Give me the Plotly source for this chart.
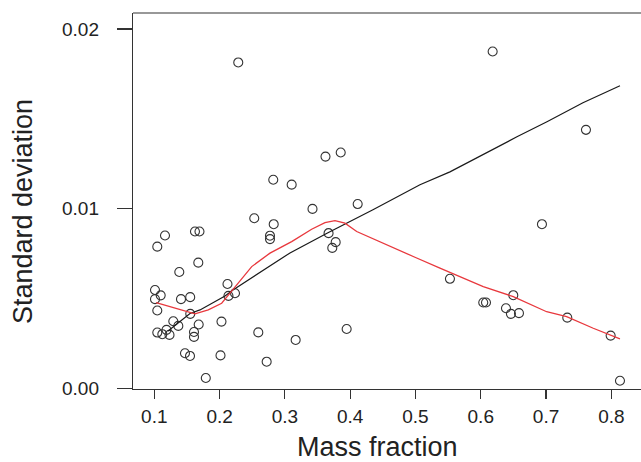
import plotly.graph_objects as go

# Scatter data (mass fraction, standard deviation)
mass_fraction = [0.1164, 0.1046, 0.1623, 0.1692, 0.1674, 0.1383, 0.1011, 0.1098, 0.1011, 0.1409,
                 0.1550, 0.1046, 0.1551, 0.1291, 0.1368, 0.1680, 0.1608, 0.1608, 0.1046, 0.1123,
                 0.1187, 0.1233, 0.1470, 0.1547, 0.2014, 0.2029, 0.1789, 0.2121, 0.2136, 0.2236,
                 0.2286, 0.2531, 0.2822, 0.3104, 0.2829, 0.2772, 0.2772, 0.2593, 0.2721, 0.3165,
                 0.3423, 0.3622, 0.3855, 0.4115, 0.3669, 0.3778, 0.3726, 0.3946, 0.6182, 0.7611,
                 0.6937, 0.5528, 0.6038, 0.6080, 0.6498, 0.6386, 0.6462, 0.6585, 0.7325, 0.7989,
                 0.8132]
std_dev = [0.00851, 0.00789, 0.00873, 0.00873, 0.00700, 0.00648, 0.00548, 0.00518, 0.00497, 0.00497,
           0.00508, 0.00434, 0.00415, 0.00374, 0.00348, 0.00356, 0.00314, 0.00287, 0.00311, 0.00302,
           0.00326, 0.00298, 0.00196, 0.00181, 0.00184, 0.00372, 0.00058, 0.00581, 0.00515, 0.00530,
           0.01814, 0.00947, 0.01161, 0.01134, 0.00914, 0.00850, 0.00831, 0.00312, 0.00149, 0.00270,
           0.00999, 0.01290, 0.01313, 0.01026, 0.00864, 0.00814, 0.00782, 0.00331, 0.01875, 0.01439,
           0.00914, 0.00610, 0.00478, 0.00478, 0.00519, 0.00446, 0.00415, 0.00419, 0.00394, 0.00294,
           0.00043]

# Black fitted curve
fit_x = [0.121, 0.1547, 0.170, 0.2083, 0.2205, 0.3078, 0.3660, 0.4349, 0.5069, 0.5528,
         0.6554, 0.7014, 0.7565, 0.8132]
fit_y = [0.00320, 0.00417, 0.00437, 0.00515, 0.00548, 0.00754, 0.00866, 0.00994, 0.01133, 0.01205,
         0.01400, 0.01484, 0.01590, 0.01684]

# Red smoothed curve
smooth_x = [0.1028, 0.1291, 0.1623, 0.1827, 0.2032, 0.2159, 0.2286, 0.2492, 0.2772, 0.3104,
            0.3410, 0.3614, 0.3767, 0.3920, 0.4100, 0.4380, 0.4686, 0.4992, 0.5375, 0.6038,
            0.6498, 0.7009, 0.7315, 0.7723, 0.8132]
smooth_y = [0.00478, 0.00452, 0.00415, 0.00437, 0.00474, 0.00530, 0.00586, 0.00678, 0.00753, 0.00817,
            0.00886, 0.00923, 0.00934, 0.00920, 0.00873, 0.00827, 0.00780, 0.00730, 0.00669, 0.00567,
            0.00511, 0.00427, 0.00400, 0.00335, 0.00276]

x_ticks = [0.1, 0.2, 0.3, 0.4, 0.5, 0.6, 0.7, 0.8]
x_tick_labels = ["0.1", "0.2", "0.3", "0.4", "0.5", "0.6", "0.7", "0.8"]
y_ticks = [0.0, 0.01, 0.02]
y_tick_labels = ["0.00", "0.01", "0.02"]

FONT = "Liberation Sans, Arial, sans-serif"
INK = "#222222"

fig = go.Figure()
fig.add_trace(go.Scatter(
    x=mass_fraction, y=std_dev, mode="markers",
    marker=dict(symbol="circle-open", size=9, color="#333333", line=dict(width=1.1, color="#333333")),
    showlegend=False, hoverinfo="skip"))
fig.add_trace(go.Scatter(
    x=fit_x, y=fit_y, mode="lines",
    line=dict(color="#1a1a1a", width=1.2), showlegend=False, hoverinfo="skip"))
fig.add_trace(go.Scatter(
    x=smooth_x, y=smooth_y, mode="lines",
    line=dict(color="#e8383d", width=1.3), showlegend=False, hoverinfo="skip"))

fig.update_layout(
    width=641, height=462,
    margin=dict(l=133, r=0, t=13, b=73),
    paper_bgcolor="white", plot_bgcolor="white",
    font=dict(family=FONT, color=INK),
    xaxis=dict(
        range=[0.0674, 0.8454], showgrid=False, zeroline=False,
        showline=True, linecolor="#333333", linewidth=1.2, mirror=False,
        tickmode="array", tickvals=x_ticks, ticktext=x_tick_labels,
        ticks="outside", ticklen=9, tickwidth=1.2, tickcolor="#333333",
        tickfont=dict(size=19, family=FONT, color=INK), ticklabelstandoff=1),
    yaxis=dict(
        range=[-0.00003, 0.02089], showgrid=False, zeroline=False,
        showline=True, linecolor="#333333", linewidth=1.2, mirror=False,
        tickmode="array", tickvals=y_ticks, ticktext=y_tick_labels,
        ticks="outside", ticklen=15, tickwidth=1.2, tickcolor="#333333",
        tickfont=dict(size=19, family=FONT, color=INK), ticklabelstandoff=14),
    shapes=[dict(type="line", xref="paper", yref="paper", x0=0, x1=1, y0=1, y1=1,
                 line=dict(color="#333333", width=1.2))],
    annotations=[
        dict(text="Mass fraction", xref="paper", yref="paper", x=0.482, y=-0.154,
             xanchor="center", yanchor="middle", showarrow=False,
             font=dict(size=27, family=FONT, color=INK)),
        dict(text="Standard deviation", xref="paper", yref="paper", x=-0.2165, y=0.4707,
             xanchor="center", yanchor="middle", textangle=-90, showarrow=False,
             font=dict(size=27, family=FONT, color=INK)),
    ],
)

fig.write_html("out.html",
               config={"displayModeBar": False, "staticPlot": True},
               post_script="document.body.style.margin='0';document.body.style.overflow='hidden';")
